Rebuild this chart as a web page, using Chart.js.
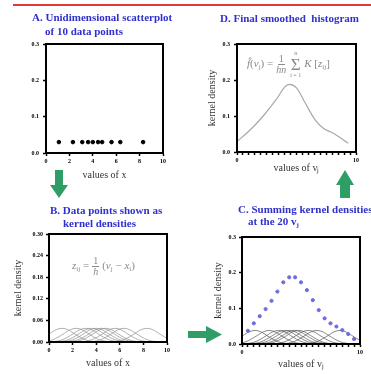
<!DOCTYPE html>
<html><head><meta charset="utf-8">
<script src="https://cdn.jsdelivr.net/npm/chart.js@4.4.0/dist/chart.umd.min.js"></script>
<style>
html,body{margin:0;padding:0;background:#fff;width:371px;height:374px;overflow:hidden;position:relative;font-family:"Liberation Serif",serif;}
canvas{position:absolute;}
svg{position:absolute;left:0;top:0;}
.t{position:absolute;font:bold 11px "Liberation Serif",serif;color:#3030cc;white-space:nowrap;line-height:12px;}
.f{position:absolute;display:flex;align-items:center;font:11px "Liberation Serif",serif;color:#8a8a8a;white-space:nowrap;line-height:1;}
.frac{display:inline-flex;flex-direction:column;align-items:center;margin:0 3px;font-size:10px;}
.frac span:first-child{border-bottom:1px solid #8a8a8a;padding:0 1px;}
.sum{display:inline-flex;flex-direction:column;align-items:center;margin:0 3px 0 1px;}
.sum .big{font-size:17px;line-height:15px;}
.sum .s{font-size:6px;line-height:7px;}
sub{font-size:7px;vertical-align:-2px;}
</style></head>
<body>
<canvas id="cA" width="175" height="155" style="left:0;top:30px"></canvas>
<canvas id="cD" width="168" height="155" style="left:200px;top:30px"></canvas>
<canvas id="cB" width="182" height="154" style="left:0;top:220px"></canvas>
<canvas id="cC" width="168" height="151" style="left:200px;top:223px"></canvas>

<svg width="371" height="374">
  <line x1="13" y1="5" x2="371" y2="5" stroke="#e03a3a" stroke-width="2"/>
  <polygon points="55,170 63,170 63,185 68,185 59,198 50,185 55,185" fill="#2f9e66"/>
  <polygon points="188,331 206,331 206,326 222,334.5 206,343 206,338 188,338" fill="#2f9e66"/>
  <polygon points="345,170 354,185 350,185 350,198 340,198 340,185 336,185" fill="#2f9e66"/>
</svg>

<div class="t" style="left:32px;top:11px">A. Unidimensional scatterplot</div>
<div class="t" style="left:45px;top:25px">of 10 data points</div>
<div class="t" style="left:220px;top:12px">D. Final smoothed&nbsp; histogram</div>
<div class="t" style="left:50px;top:204px">B. Data points shown as</div>
<div class="t" style="left:63px;top:217px">kernel densities</div>
<div class="t" style="left:238px;top:203px">C. Summing kernel densities</div>
<div class="t" style="left:248px;top:215px">at the 20 v<sub>j</sub></div>

<div class="f" style="left:247px;top:50px">
  <span><i>f̂</i>(<i>v</i><sub>j</sub>) =</span>
  <span class="frac"><span>1</span><span><i>hn</i></span></span>
  <span class="sum"><span class="s">n</span><span class="big">Σ</span><span class="s">i = 1</span></span>
  <span><i>K</i> [<i>z</i><sub>ij</sub>]</span>
</div>
<div class="f" style="left:72px;top:256px">
  <span><i>z</i><sub>ij</sub> =</span>
  <span class="frac"><span>1</span><span><i>h</i></span></span>
  <span>(<i>v</i><sub>j</sub> − <i>x</i><sub>i</sub>)</span>
</div>

<script>
// ---- data ----
const dataX = [1.1, 2.3, 3.1, 3.6, 4.0, 4.45, 4.8, 5.6, 6.35, 8.3];
const dataY = [0.03, 0.03, 0.03, 0.03, 0.03, 0.03, 0.03, 0.03, 0.03, 0.03];
const kernelOffsets = [-3, -2.5, -2, -1.5, -1, -0.5, 0, 0.5, 1, 1.5, 2, 2.5, 3];
const kernelHeights = [0.0004, 0.002, 0.006, 0.014, 0.024, 0.034, 0.038, 0.034, 0.024, 0.014, 0.006, 0.002, 0.0004];
const vj = [0.5, 1, 1.5, 2, 2.5, 3, 3.5, 4, 4.5, 5, 5.5, 6, 6.5, 7, 7.5, 8, 8.5, 9, 9.5];
const densityAtVj = [0.037, 0.058, 0.078, 0.098, 0.121, 0.147, 0.173, 0.187, 0.187, 0.173, 0.151, 0.123, 0.095, 0.072, 0.058, 0.049, 0.039, 0.028, 0.014];
const smoothX = [0, 1.1, 2.2, 3.3, 4.0, 4.4, 5.0, 5.7, 6.55, 7.25, 8.1, 9.35];
const smoothY = [0.029, 0.061, 0.100, 0.146, 0.180, 0.188, 0.178, 0.138, 0.090, 0.066, 0.052, 0.024];
const yTicksA = ['0.0', '0.1', '0.2', '0.3'];
const yTicksB = ['0.00', '0.06', '0.12', '0.18', '0.24', '0.30'];
const xEndLabels = ['0', '10'];

// ---- helpers ----
const SERIF = '"Liberation Serif", "Times New Roman", serif';
const tickFont = {family: SERIF, size: 6, weight: 'bold'};
const titleFont = {family: SERIF, size: 10};
function fixW(w) { return s => { s.width = w; s.paddingTop = 0; s.paddingBottom = 0; }; }
function fixH(h) { return s => { s.height = h; s.paddingLeft = 0; s.paddingRight = 0; }; }
const boxPlugin = {
  id: 'box',
  afterDatasetsDraw(chart) {
    const {ctx, chartArea: a} = chart;
    ctx.save();
    ctx.strokeStyle = '#000'; ctx.lineWidth = 2;
    ctx.strokeRect(a.left, a.top, a.right - a.left, a.bottom - a.top);
    ctx.restore();
  }
};
const grid = {display: true, drawOnChartArea: false, drawTicks: true, tickLength: 3, tickWidth: 1.5, tickColor: '#000'};
const border = {display: true, color: '#000', width: 2};

function xAxis(o) {
  return {
    type: 'linear', min: 0, max: 10,
    ticks: {stepSize: o.step, autoSkip: false, maxRotation: 0, font: tickFont, color: '#000', padding: 2,
      callback: o.cb},
    grid, border,
    title: {display: true, text: o.title, font: titleFont, color: '#333', padding: {top: 0, bottom: o.pb}},
    afterFit: fixH(o.h)
  };
}
function yAxis(o) {
  return {
    type: 'linear', min: 0, max: o.max,
    ticks: {stepSize: o.step, autoSkip: false, font: tickFont, color: '#000', padding: o.tp,
      callback: (v) => o.labels[Math.round(v / o.step)] ?? ''},
    grid, border,
    title: {display: !!o.title, text: o.title || '', font: titleFont, color: '#333', padding: {top: o.ptop || 0, bottom: 0}},
    afterFit: fixW(o.w)
  };
}
function kernelSets(color) {
  return dataX.map(c => ({
    type: 'line',
    data: kernelOffsets.map((off, i) => ({x: c + off, y: kernelHeights[i]})),
    borderColor: color, borderWidth: 0.7, pointRadius: 0, tension: 0.4, fill: false
  }));
}
const endCb = v => (v === 0 ? xEndLabels[0] : (v === 10 ? xEndLabels[1] : ''));
const base = {responsive: false, animation: false, events: [],
  plugins: {legend: {display: false}, tooltip: {enabled: false}}};

// ---- A ----
new Chart(document.getElementById('cA'), {
  type: 'scatter',
  data: {datasets: [{data: dataX.map((x, i) => ({x, y: dataY[i]})), backgroundColor: '#000', borderColor: '#000', pointRadius: 1.8}]},
  options: Object.assign({}, base, {
    layout: {padding: {top: 14, right: 12, left: 0, bottom: 0}},
    scales: {
      x: xAxis({step: 2, cb: v => String(v), title: 'values of x', pb: 4, h: 32}),
      y: yAxis({max: 0.3, step: 0.1, labels: yTicksA, tp: 4, w: 46})
    }
  }),
  plugins: [boxPlugin]
});

// ---- B ----
new Chart(document.getElementById('cB'), {
  type: 'line',
  data: {datasets: kernelSets('#8f8f8f')},
  options: Object.assign({}, base, {
    layout: {padding: {top: 14, right: 15, left: 0, bottom: 0}},
    scales: {
      x: xAxis({step: 2, cb: v => String(v), title: 'values of x', pb: 5, h: 32}),
      y: yAxis({max: 0.3, step: 0.06, labels: yTicksB, tp: 3, w: 49, title: 'kernel density', ptop: 12})
    }
  }),
  plugins: [boxPlugin]
});

// ---- C ----
new Chart(document.getElementById('cC'), {
  type: 'line',
  data: {datasets: [
    {type: 'scatter', data: vj.map((x, i) => ({x, y: densityAtVj[i]})), backgroundColor: '#6d6de0', borderColor: '#6d6de0', pointRadius: 1.6, showLine: false}
  ].concat(kernelSets('#555'))},
  options: Object.assign({}, base, {
    layout: {padding: {top: 14, right: 8, left: 0, bottom: 0}},
    scales: {
      x: xAxis({step: 0.5, cb: endCb, title: 'values of vⱼ', pb: 4, h: 30}),
      y: yAxis({max: 0.3, step: 0.1, labels: yTicksA, tp: 3, w: 42, title: 'kernel density', ptop: 12})
    }
  }),
  plugins: [boxPlugin]
});

// ---- D ----
new Chart(document.getElementById('cD'), {
  type: 'line',
  data: {datasets: [{data: smoothX.map((x, i) => ({x, y: smoothY[i]})), borderColor: '#a8a8a8', borderWidth: 1.2, pointRadius: 0, tension: 0.4, fill: false}]},
  options: Object.assign({}, base, {
    layout: {padding: {top: 14, right: 12, left: 0, bottom: 0}},
    scales: {
      x: xAxis({step: 0.5, cb: endCb, title: 'values of vⱼ', pb: 11, h: 33}),
      y: yAxis({max: 0.3, step: 0.1, labels: yTicksA, tp: 4, w: 37, title: 'kernel density', ptop: 6})
    }
  }),
  plugins: [boxPlugin]
});
</script>
</body></html>
